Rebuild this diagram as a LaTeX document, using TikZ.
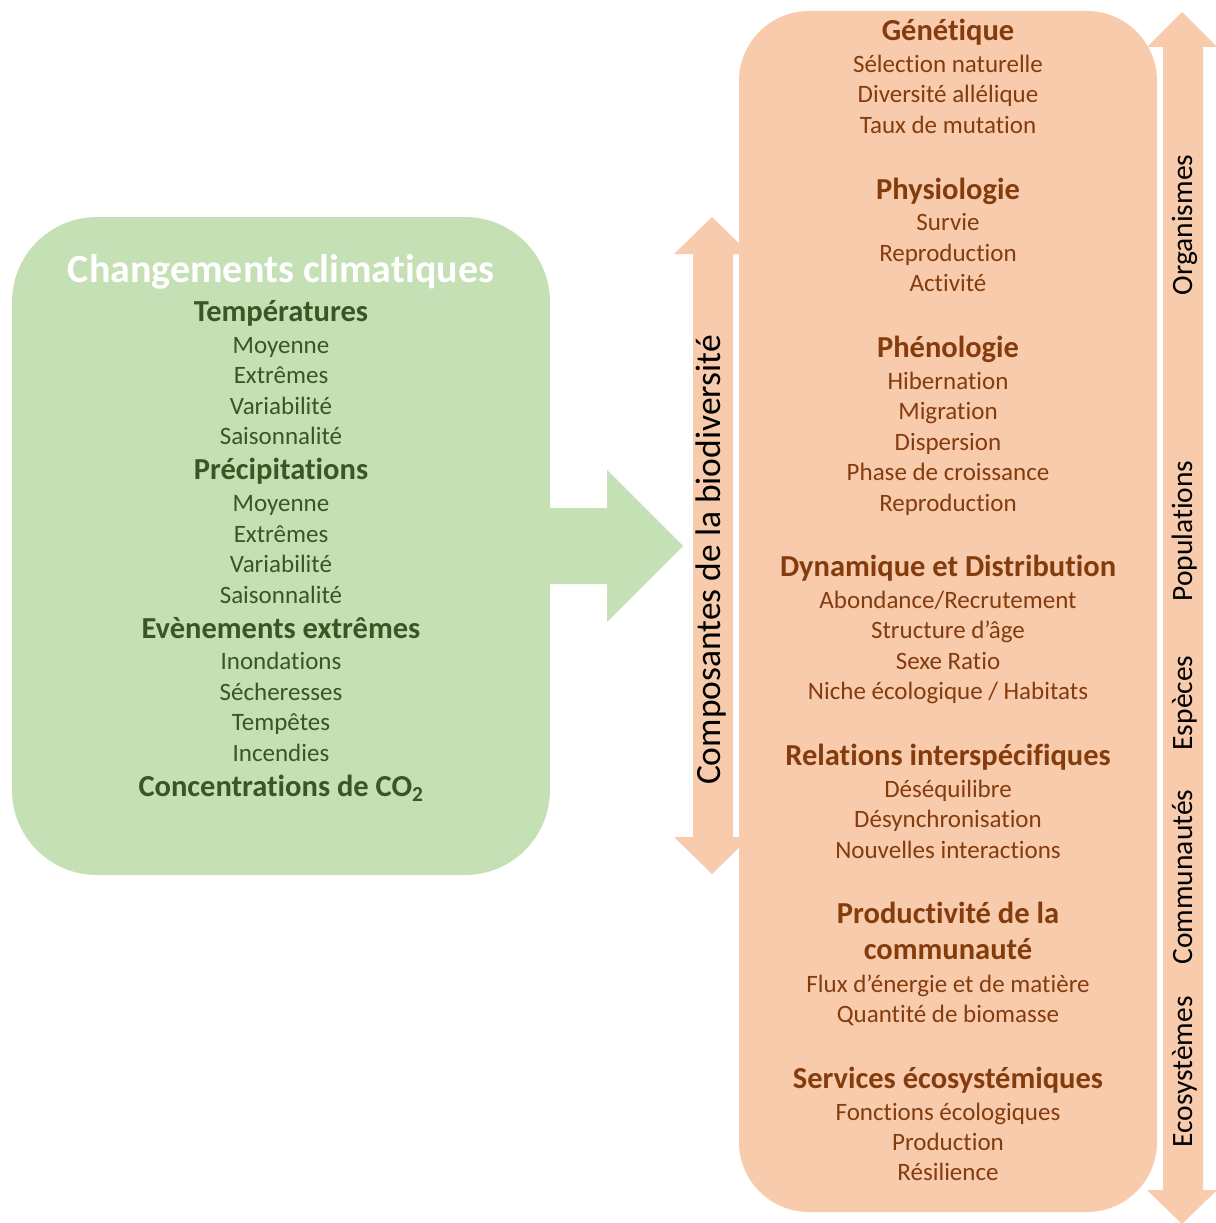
\documentclass[tikz,border=0pt]{standalone}
\usepackage{fontspec}
\setmainfont{Carlito}[Ligatures=NoCommon]
\definecolor{boxgreen}{HTML}{C5E0B4}
\definecolor{boxorange}{HTML}{F8CBAD}
\definecolor{dgreen}{HTML}{385723}
\definecolor{dbrown}{HTML}{843C0C}
\tikzset{
  txt/.style={inner sep=0pt, text depth=0pt, anchor=center},
  gitem/.style={txt, text height=15.5pt, text=dgreen, font=\fontsize{25}{30}\selectfont},
  ghead/.style={txt, text height=18.8pt, text=dgreen, font=\bfseries\fontsize{30.5}{36}\selectfont},
  gtitle/.style={txt, text height=24.8pt, text=white, font=\bfseries\fontsize{40}{46}\selectfont},
  oitem/.style={txt, text height=15.5pt, text=dbrown, font=\fontsize{25}{30}\selectfont},
  ohead/.style={txt, text height=18.8pt, text=dbrown, font=\bfseries\fontsize{30.5}{36}\selectfont},
  side/.style={txt, text height=18.3pt, rotate=90, text=black, font=\fontsize{29.5}{34}\selectfont},
  sidebig/.style={txt, text height=21.9pt, rotate=90, text=black, font=\fontsize{35.5}{40}\selectfont},
}
\begin{document}
\begin{tikzpicture}[x=1pt,y=-1pt]
\useasboundingbox (0,0) rectangle (1215,1223);
% shapes
\fill[boxgreen, rounded corners=85pt] (12,217) rectangle (550,875);
\fill[boxgreen] (540,508) -- (607,508) -- (607,470) -- (683,546) -- (607,622) -- (607,584) -- (540,584) -- cycle;
\fill[boxorange, rounded corners=70pt] (739,11) rectangle (1157,1212);
\fill[boxorange] (712,217) -- (750,254) -- (733,254) -- (733,837) -- (750,837) -- (712,874) -- (674,837) -- (693,837) -- (693,254) -- (674,254) -- cycle;
\fill[boxorange] (1182,12) -- (1217,47) -- (1203,47) -- (1203,1190) -- (1217,1190) -- (1182,1224) -- (1147,1190) -- (1163,1190) -- (1163,47) -- (1147,47) -- cycle;
% left texts
\node[gtitle] (cc) at (281,270) {Changements climatiques};
\node[ghead] (temp) at (281,312) {Températures};
\node[gitem] (t1) at (281,346) {Moyenne};
\node[gitem] (t2) at (281,376) {Extrêmes};
\node[gitem] (t3) at (281,407) {Variabilité};
\node[gitem] (t4) at (281,437) {Saisonnalité};
\node[ghead] (prec) at (281,470) {Précipitations};
\node[gitem] (p1) at (281,504) {Moyenne};
\node[gitem] (p2) at (281,535) {Extrêmes};
\node[gitem] (p3) at (281,565) {Variabilité};
\node[gitem] (p4) at (281,596) {Saisonnalité};
\node[ghead] (evt) at (281,629) {Evènements extrêmes};
\node[gitem] (e1) at (281,662) {Inondations};
\node[gitem] (e2) at (281,693) {Sécheresses};
\node[gitem] (e3) at (281,723) {Tempêtes};
\node[gitem] (e4) at (281,754) {Incendies};
\node[ghead] (co2) at (281,787) {Concentrations de CO\textsubscript{2}};
% middle label
\node[sidebig] (comp) at (710,560) {Composantes de la biodiversité};
% right texts
\node[ohead] (gen) at (948,31) {Génétique};
\node[oitem] (g1) at (948,65) {Sélection naturelle};
\node[oitem] (g2) at (948,95) {Diversité allélique};
\node[oitem] (g3) at (948,126) {Taux de mutation};
\node[ohead] (phys) at (948,190) {Physiologie};
\node[oitem] (ph1) at (948,223) {Survie};
\node[oitem] (ph2) at (948,254) {Reproduction};
\node[oitem] (ph3) at (948,284) {Activité};
\node[ohead] (phen) at (948,348) {Phénologie};
\node[oitem] (pn1) at (948,382) {Hibernation};
\node[oitem] (pn2) at (948,412) {Migration};
\node[oitem] (pn3) at (948,443) {Dispersion};
\node[oitem] (pn4) at (948,473) {Phase de croissance};
\node[oitem] (pn5) at (948,504) {Reproduction};
\node[ohead] (dyn) at (948,567) {Dynamique et Distribution};
\node[oitem] (d1) at (948,601) {Abondance/Recrutement};
\node[oitem] (d2) at (948,631) {Structure d’âge};
\node[oitem] (d3) at (948,662) {Sexe Ratio};
\node[oitem] (d4) at (948,692) {Niche écologique / Habitats};
\node[ohead] (rel) at (948,756) {Relations interspécifiques};
\node[oitem] (r1) at (948,790) {Déséquilibre};
\node[oitem] (r2) at (948,820) {Désynchronisation};
\node[oitem] (r3) at (948,851) {Nouvelles interactions};
\node[ohead] (prod) at (948,914) {Productivité de la};
\node[ohead] (prod2) at (948,950) {communauté};
\node[oitem] (pr1) at (948,985) {Flux d’énergie et de matière};
\node[oitem] (pr2) at (948,1015) {Quantité de biomasse};
\node[ohead] (serv) at (948,1079) {Services écosystémiques};
\node[oitem] (s1) at (948,1113) {Fonctions écologiques};
\node[oitem] (s2) at (948,1143) {Production};
\node[oitem] (s3) at (948,1173) {Résilience};
% side labels
\node[side] (org) at (1183,225) {Organismes};
\node[side] (pop) at (1183,531) {Populations};
\node[side] (esp) at (1183,703) {Espèces};
\node[side] (com) at (1183,877) {Communautés};
\node[side] (eco) at (1183,1072) {Ecosystèmes};
\end{tikzpicture}
\end{document}
